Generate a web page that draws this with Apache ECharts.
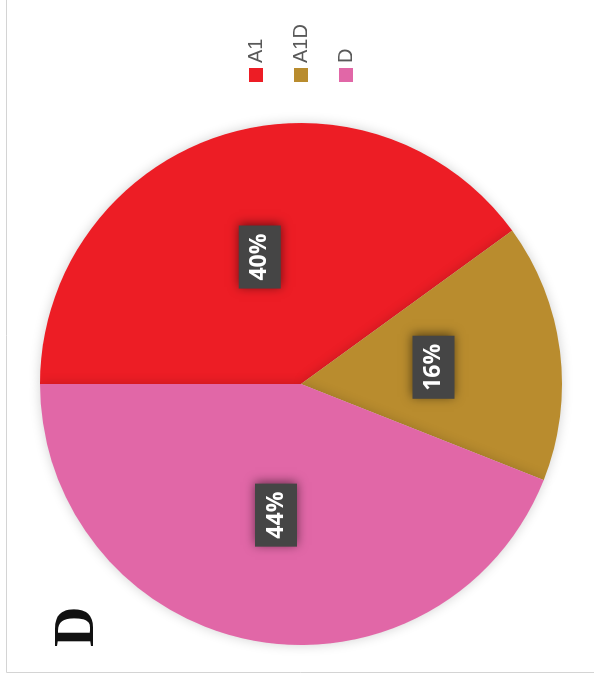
<!DOCTYPE html>
<html>
<head>
<meta charset="utf-8">
<script src="https://cdn.jsdelivr.net/npm/echarts@6/dist/echarts.min.js"></script>
<style>
  html, body { margin: 0; padding: 0; background: #ffffff; overflow: hidden; }
  /* The chart is laid out landscape and turned a quarter turn counter-clockwise */
  #chart {
    position: absolute; left: 0; top: 0;
    width: 678px; height: 594px;
    transform-origin: 0 0;
    transform: translateY(678px) rotate(-90deg);
  }
</style>
</head>
<body>
<div id="chart"></div>
<script>
// Pie shares per genotype
const categories = ['A1', 'A1D', 'D'];
const shares = [40, 16, 44];
const colors = ['#ED1D25', '#B98C2E', '#E167A7'];
const panelTitle = 'D';

const chart = echarts.init(document.getElementById('chart'), null, { renderer: 'canvas' });

chart.setOption({
  backgroundColor: '#ffffff',
  animation: false,
  color: colors,
  title: {
    text: panelTitle,
    left: 26,
    top: 46,
    textStyle: {
      fontFamily: 'Liberation Serif',
      fontWeight: 'bold',
      fontSize: 56,
      color: '#111111'
    }
  },
  legend: {
    orient: 'vertical',
    left: 591,
    top: 241,
    itemWidth: 14,
    itemHeight: 14,
    itemGap: 25,
    icon: 'rect',
    data: categories,
    textStyle: {
      fontFamily: 'Liberation Sans',
      fontSize: 20,
      color: '#595959'
    }
  },
  graphic: [{
    type: 'rect',
    shape: { x: 5.5, y: 6.5, width: 720, height: 640 },
    style: { fill: 'none', stroke: '#d4d4d4', lineWidth: 1 },
    silent: true
  }],
  series: [{
    type: 'pie',
    center: [294, 301],
    radius: [0, 261],
    startAngle: 90,
    clockwise: true,
    data: categories.map((name, i) => ({ name, value: shares[i] })),
    itemStyle: {
      shadowBlur: 12,
      shadowColor: 'rgba(0,0,0,0.18)'
    },
    emphasis: { disabled: true },
    labelLine: { show: false },
    label: {
      show: true,
      position: 'inside',
      formatter: p => p.value + '%',
      fontFamily: 'Open Sans',
      fontWeight: 'bold',
      fontSize: 23,
      color: '#ffffff',
      backgroundColor: '#454545',
      padding: [10, 8, 9, 8],
      shadowBlur: 10,
      shadowColor: 'rgba(0,0,0,0.55)',
      shadowOffsetX: 2,
      shadowOffsetY: 0
    }
  }]
});
</script>
</body>
</html>
